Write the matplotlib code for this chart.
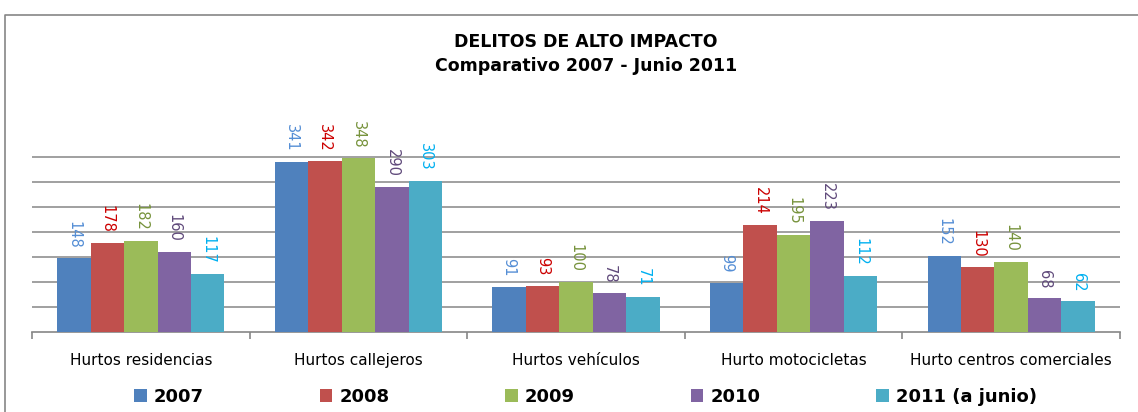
import numpy as np
import matplotlib.pyplot as plt
from matplotlib.lines import Line2D
from matplotlib.patches import Patch

categorias = ["Hurtos residencias", "Hurtos callejeros", "Hurtos vehículos",
              "Hurto motocicletas", "Hurto centros comerciales"]
anios = ["2007", "2008", "2009", "2010", "2011 (a junio)"]
v2007 = [148, 341, 91, 99, 152]
v2008 = [178, 342, 93, 214, 130]
v2009 = [182, 348, 100, 195, 140]
v2010 = [160, 290, 78, 223, 68]
v2011 = [117, 303, 71, 112, 62]
series = [v2007, v2008, v2009, v2010, v2011]

bar_colors = ["#4F81BD", "#C0504D", "#9BBB59", "#8064A2", "#4BACC6"]
label_colors = ["#558ED5", "#CC0000", "#77933C", "#604A7B", "#00B0F0"]

W, H = 1138, 412
fig = plt.figure(figsize=(W / 100, H / 100), dpi=100)
fig.patch.set_facecolor("white")

# marco del grafico (recortado a la derecha y abajo)
fig.add_artist(Line2D([5 / W, 5 / W, 1], [0, 1 - 15 / H, 1 - 15 / H],
                      color="#868686", lw=1.2, transform=fig.transFigure))

ax = fig.add_axes([32 / W, (H - 332) / H, (1120 - 32) / W, 200 / H])

x = np.arange(len(categorias))
bw = 1 / 6.5
for i, vals in enumerate(series):
    pos = x + (i - 2) * bw
    ax.bar(pos, vals, width=bw, color=bar_colors[i], zorder=3)
    for p, v in zip(pos, vals):
        ax.annotate(str(v), (p, v), xytext=(0, 7), textcoords="offset points",
                    rotation=270, ha="center", va="bottom", fontsize=10.5,
                    color=label_colors[i], annotation_clip=False)

ax.set_xlim(-0.5, len(categorias) - 0.5)
ax.set_ylim(0, 400)
ax.set_yticks(range(50, 400, 50))
ax.yaxis.grid(True, color="#868686", lw=1.1)
ax.set_axisbelow(True)
ax.tick_params(axis="y", left=False, labelleft=False)
for s in ["top", "right", "left"]:
    ax.spines[s].set_visible(False)
ax.spines["bottom"].set_color("#868686")
ax.spines["bottom"].set_linewidth(1.2)

ax.set_xticks(x)
ax.set_xticklabels(categorias, fontsize=11, fontweight="medium")
ax.tick_params(axis="x", which="major", length=0, pad=15)
ax.set_xticks(np.arange(-0.5, len(categorias)), minor=True)
ax.tick_params(axis="x", which="minor", length=5, color="#868686", width=1.2)

fig.text(586 / W, 1 - 42 / H, "DELITOS DE ALTO IMPACTO", ha="center", va="center",
         fontsize=12.5, fontweight="bold")
fig.text(586 / W, 1 - 66 / H, "Comparativo 2007 - Junio 2011", ha="center", va="center",
         fontsize=12.5, fontweight="bold")

handles = [Patch(facecolor=c) for c in bar_colors]
fig.legend(handles, anios, ncol=5, loc="center left", bbox_to_anchor=(118 / W, 1 - 397 / H),
           frameon=False, prop={"weight": "bold", "size": 13}, handlelength=0.7,
           handleheight=0.7, handletextpad=0.4, columnspacing=6.4)

fig.savefig("out.png", dpi=100)
